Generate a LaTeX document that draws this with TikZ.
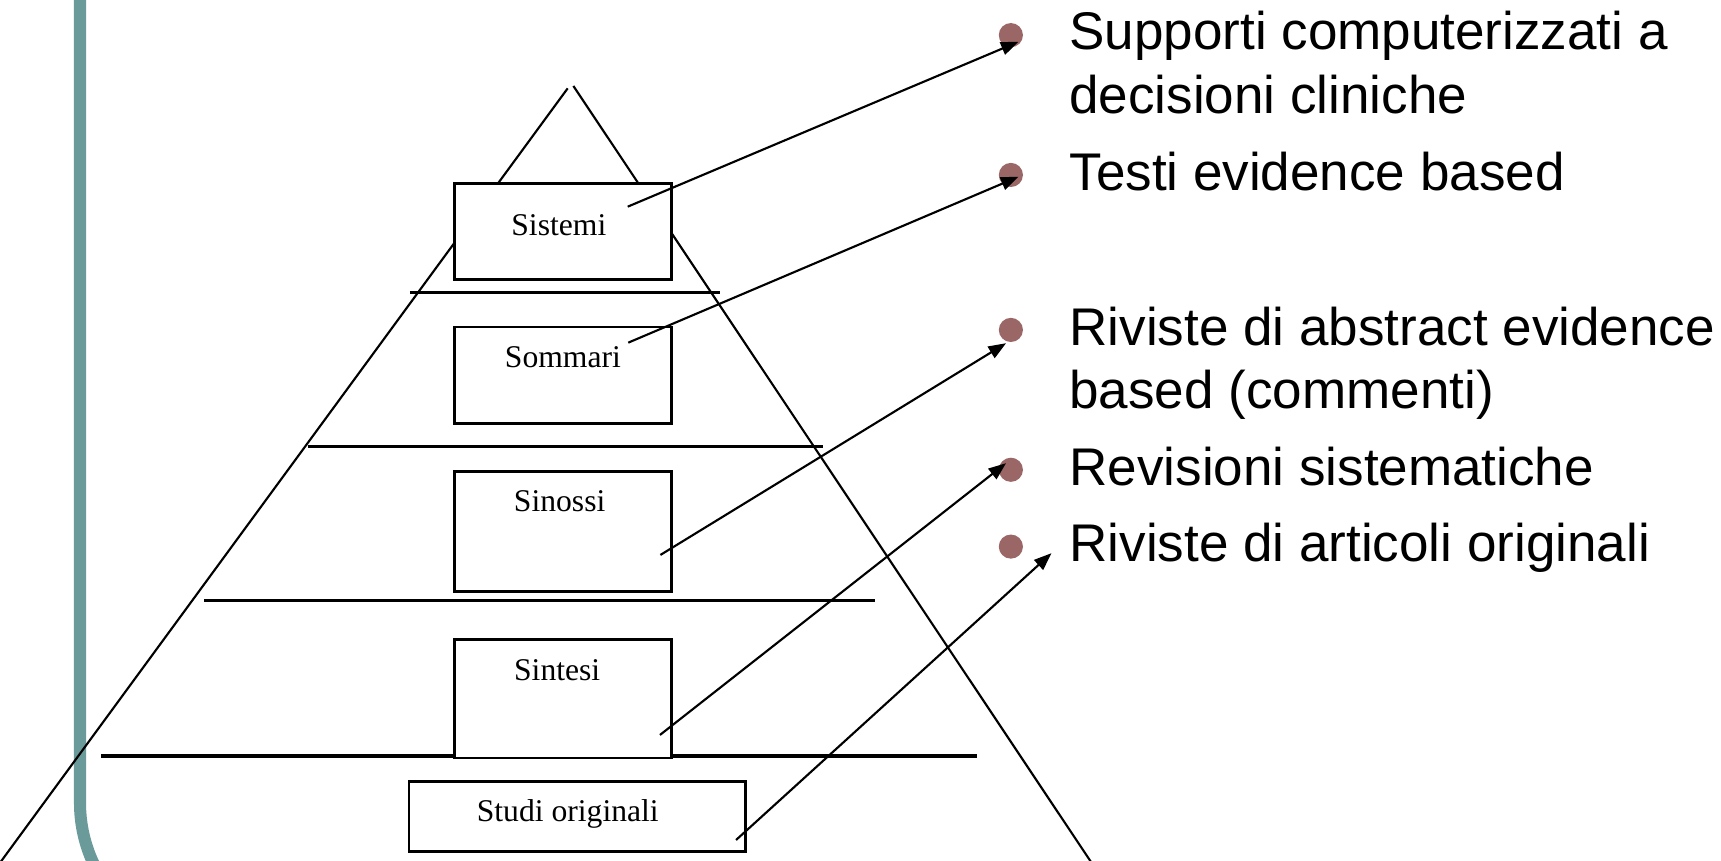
\documentclass[tikz,border=0pt]{standalone}
\usepackage{fontspec}
\setmainfont{Liberation Serif}
\setsansfont{Liberation Sans}
\usetikzlibrary{arrows.meta}
\definecolor{barteal}{HTML}{6A9A9A}
\definecolor{dotrose}{HTML}{9A6666}

\tikzset{
  tierbox/.style={draw=black, line width=1.4pt, fill=white, inner sep=0pt, anchor=north west,
                  font=\fontsize{16.4}{19}\selectfont},
  tierline/.style={line width=1.8pt},
  side/.style={line width=1.1pt},
  bulletdot/.style={circle, fill=dotrose, inner sep=0pt, minimum size=0.44cm},
  entry/.style={anchor=base west, inner sep=0pt, align=left,
                font=\sffamily\fontsize{27.5}{32.7}\selectfont},
  link/.style={-{Triangle[length=0.32cm, width=0.24cm]}, line width=1.1pt}
}

\begin{document}
\begin{tikzpicture}[x=0.02cm, y=-0.02cm]

\useasboundingbox (0,0) rectangle (1568,784);
\clip (0,0) rectangle (1568,784);

% Slide frame
\draw[barteal, line width=0.22cm] (72.9,-20) -- (72.9,731.6)
  .. controls (72.9,766.1) and (86.6,799.1) .. (111,823.5);

% Pyramid sides
\draw[side] (517.2,80.5) -- (-10.2,800);
\draw[side] (522.4,78.3) -- (1003.8,800);

% Tier lines
\draw[tierline] (373.5,266.3) -- (656,266.3);
\draw[tierline] (280.5,407) -- (749.7,407);
\draw[tierline] (186,547.3) -- (797,547.3);
\draw[tierline] (92,688.8) -- (890.3,688.8);

% Tiers
\node[tierbox, minimum width=3.948cm, text height=0.94cm, text depth=0.812cm]
  (sistemi) at (413,166) {Sistemi\kern0.15cm};
\node[tierbox, minimum width=3.948cm, text height=0.746cm, text depth=1.016cm]
  (sommari) at (413,296.7) {Sommari};
\node[tierbox, minimum width=3.948cm, text height=0.73cm, text depth=1.456cm]
  (sinossi) at (413,428.2) {Sinossi\kern0.12cm};
\node[tierbox, minimum width=3.948cm, text height=0.74cm, text depth=1.416cm]
  (sintesi) at (413,581.6) {Sintesi\kern0.21cm};
\node[tierbox, minimum width=6.128cm, text height=0.726cm, text depth=0.548cm]
  (studi) at (371.4,710.7) {Studi originali\kern0.34cm};

% Bullet list
\node[bulletdot] (b1) at (921,32) {};
\node[entry] (e1) at (974,103) {Supporti computerizzati a\\decisioni cliniche};
\node[bulletdot] (b2) at (921,159.4) {};
\node[entry] (e2) at (974,174) {Testi evidence based};
\node[bulletdot] (b3) at (921,300.6) {};
\node[entry] (e3) at (974,372) {Riviste di abstract evidence\\based (commenti)};
\node[bulletdot] (b4) at (921,428) {};
\node[entry] (e4) at (974,442) {Revisioni sistematiche};
\node[bulletdot] (b5) at (921,498) {};
\node[entry] (e5) at (974,512) {Riviste di articoli originali};

% Arrows
\coordinate (t1) at (571.9,188.3);
\coordinate (h1) at (928,38);
\coordinate (t2) at (572.4,312.2);
\coordinate (h2) at (928,161);
\coordinate (t3) at (601.7,505.6);
\coordinate (h3) at (916.6,312.7);
\coordinate (t4) at (601.3,669.6);
\coordinate (h4) at (916.6,422);
\coordinate (t5) at (670.6,765.3);
\coordinate (h5) at (958,504);
\draw[link] (t1) -- (h1);
\draw[link] (t2) -- (h2);
\draw[link] (t3) -- (h3);
\draw[link] (t4) -- (h4);
\draw[link] (t5) -- (h5);

\end{tikzpicture}
\end{document}
